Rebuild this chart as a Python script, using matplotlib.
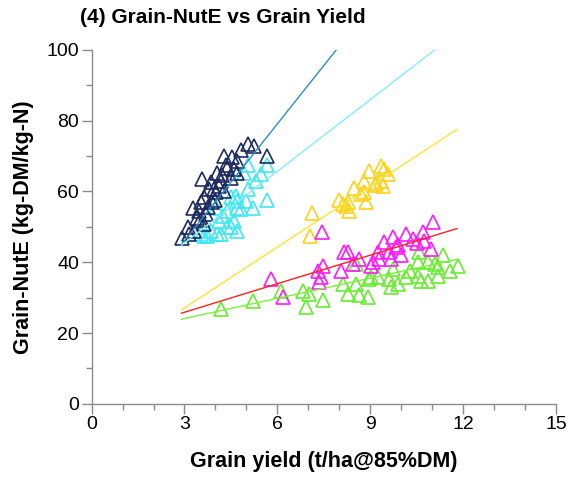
import numpy as np
import matplotlib.pyplot as plt

plt.rcParams['font.family'] = ['Liberation Sans', 'DejaVu Sans']

# Grain-NutE (kg-DM/kg-N) against grain yield (t/ha), five groups
navy_x = [2.93, 3.15, 3.10, 3.31, 3.26, 3.42, 3.47, 3.63, 3.69, 3.63, 3.58, 3.79,
          3.85, 3.90, 4.01, 4.06, 4.17, 4.28, 4.28, 4.33, 4.50, 4.55, 4.60, 4.71,
          4.82, 5.04, 5.25, 5.68, 3.96, 4.39, 4.71, 3.50, 3.75, 4.00, 4.10, 3.55, 4.20]
navy_y = [46.8, 47.9, 49.9, 48.9, 55.2, 52.6, 54.5, 50.7, 53.6, 58.3, 63.4, 60.6,
          62.6, 56.9, 59.7, 65.3, 62.9, 60.1, 70.0, 67.6, 63.9, 69.6, 66.2, 68.5,
          71.8, 73.5, 72.8, 70.0, 60.6, 66.7, 65.3, 52.0, 55.5, 57.5, 61.5, 57.0, 64.5]

cyan_x = [3.53, 3.74, 3.63, 3.85, 4.06, 4.17, 4.12, 4.39, 4.50, 4.71, 4.60, 4.23,
          4.39, 4.01, 4.82, 4.71, 5.20, 4.50, 4.71, 4.98, 5.68, 5.04, 5.30, 5.47,
          4.93, 5.04, 5.68, 4.65]
cyan_y = [47.9, 47.5, 47.5, 48.9, 47.9, 47.9, 51.7, 49.9, 49.9, 48.9, 51.7, 53.1,
          54.5, 55.4, 55.0, 55.4, 55.4, 58.3, 57.3, 57.3, 57.5, 60.6, 62.9, 64.8,
          65.3, 67.6, 67.4, 58.7]

yellow_x = [7.06, 7.11, 8.00, 8.11, 8.22, 8.33, 8.27, 8.49, 8.70, 8.81, 8.87, 8.81,
            8.97, 9.19, 9.14, 9.35, 9.35, 9.46, 9.56, 9.40]
yellow_y = [47.5, 54.0, 57.5, 56.5, 55.9, 54.5, 57.0, 61.0, 59.2, 59.7, 56.9, 62.9,
            65.9, 62.5, 61.8, 67.1, 62.9, 66.2, 64.8, 61.5]

magenta_x = [5.79, 6.17, 7.30, 7.42, 7.46, 7.35, 7.43, 8.06, 8.16, 8.27, 8.43, 8.65,
             9.03, 9.08, 9.24, 9.30, 9.46, 9.68, 9.73, 9.84, 10.00, 10.16, 10.37,
             10.70, 10.75, 10.97, 11.02, 9.60, 9.90, 10.50]
magenta_y = [35.2, 30.3, 37.6, 35.8, 38.8, 34.5, 48.4, 37.6, 42.8, 42.8, 39.5, 40.9,
             39.0, 40.0, 42.8, 40.9, 45.6, 40.9, 47.1, 44.2, 41.9, 48.0, 46.6,
             48.4, 46.1, 43.7, 51.3, 43.0, 45.0, 45.5]

green_x = [4.17, 5.20, 6.12, 6.82, 7.03, 6.92, 7.46, 8.11, 8.27, 8.54, 8.65, 8.92,
           8.97, 9.24, 8.54, 9.62, 9.68, 9.89, 10.16, 10.27, 10.54, 10.65, 10.86,
           11.18, 10.59, 10.54, 10.86, 11.08, 11.18, 11.35, 11.57, 11.83, 9.73, 9.03]
green_y = [26.9, 28.9, 32.0, 32.0, 31.1, 27.3, 29.2, 33.9, 31.1, 33.9, 30.6, 30.1,
           35.3, 35.8, 39.5, 35.3, 33.0, 33.9, 35.8, 37.6, 36.2, 34.8, 34.8,
           36.2, 42.8, 40.0, 40.0, 39.5, 38.7, 41.9, 37.6, 39.0, 38.1, 35.8]

# fitted trend lines, given by their end points
fit_x = [2.9, 11.8]
navy_fit = [45.0, 142.8]
cyan_fit = [44.8, 104.8]
yellow_fit = [26.5, 77.5]
red_fit = [25.6, 49.5]
green_fit = [23.9, 40.8]

fig = plt.figure(figsize=(5.69, 4.79), dpi=100)
ax = fig.add_axes([0.161, 0.157, 0.816, 0.739])

mk = dict(marker='^', linestyle='none', markersize=9.5, markerfacecolor='none',
          markeredgewidth=1.2)
ax.plot(cyan_x, cyan_y, markeredgecolor='#3fe8f2', **mk)
ax.plot(navy_x, navy_y, markeredgecolor='#1f2b5e', **mk)
ax.plot(yellow_x, yellow_y, markeredgecolor='#ffd21a', **mk)
ax.plot(green_x, green_y, markeredgecolor='#66ee2e', **mk)
ax.plot(magenta_x, magenta_y, markeredgecolor='#ff1aff', **mk)

ax.plot(fit_x, navy_fit, color='#2b8cc8', lw=1.0)
ax.plot(fit_x, cyan_fit, color='#80f0f6', lw=1.0)
ax.plot(fit_x, yellow_fit, color='#ffe433', lw=1.0)
ax.plot(fit_x, red_fit, color='#ff2020', lw=1.0)
ax.plot(fit_x, green_fit, color='#7cf03a', lw=1.0)

ax.set_xlim(0, 15)
ax.set_ylim(0, 100)
ax.set_xticks(np.arange(0, 16, 3))
ax.set_xticks(np.arange(0, 16, 1), minor=True)
ax.set_yticks(np.arange(0, 101, 20))
ax.set_yticks(np.arange(0, 101, 10), minor=True)

for s in ['top', 'right']:
    ax.spines[s].set_visible(False)
for s in ['left', 'bottom']:
    ax.spines[s].set_color('#8c8c8c')
    ax.spines[s].set_linewidth(1.0)
ax.tick_params(which='major', length=7, width=1.0, color='#8c8c8c',
               labelsize=14, pad=2)
ax.tick_params(which='minor', length=4, width=1.0, color='#8c8c8c')

ax.set_xlabel('Grain yield (t/ha@85%DM)', fontsize=15.5, fontweight='bold', labelpad=13)
ax.set_ylabel('Grain-NutE (kg-DM/kg-N)', fontsize=15.5, fontweight='bold', labelpad=9)
fig.text(0.14, 0.963, '(4) Grain-NutE vs Grain Yield', fontsize=15,
         fontweight='bold', va='center', ha='left')

fig.savefig('out.png', dpi=100)
